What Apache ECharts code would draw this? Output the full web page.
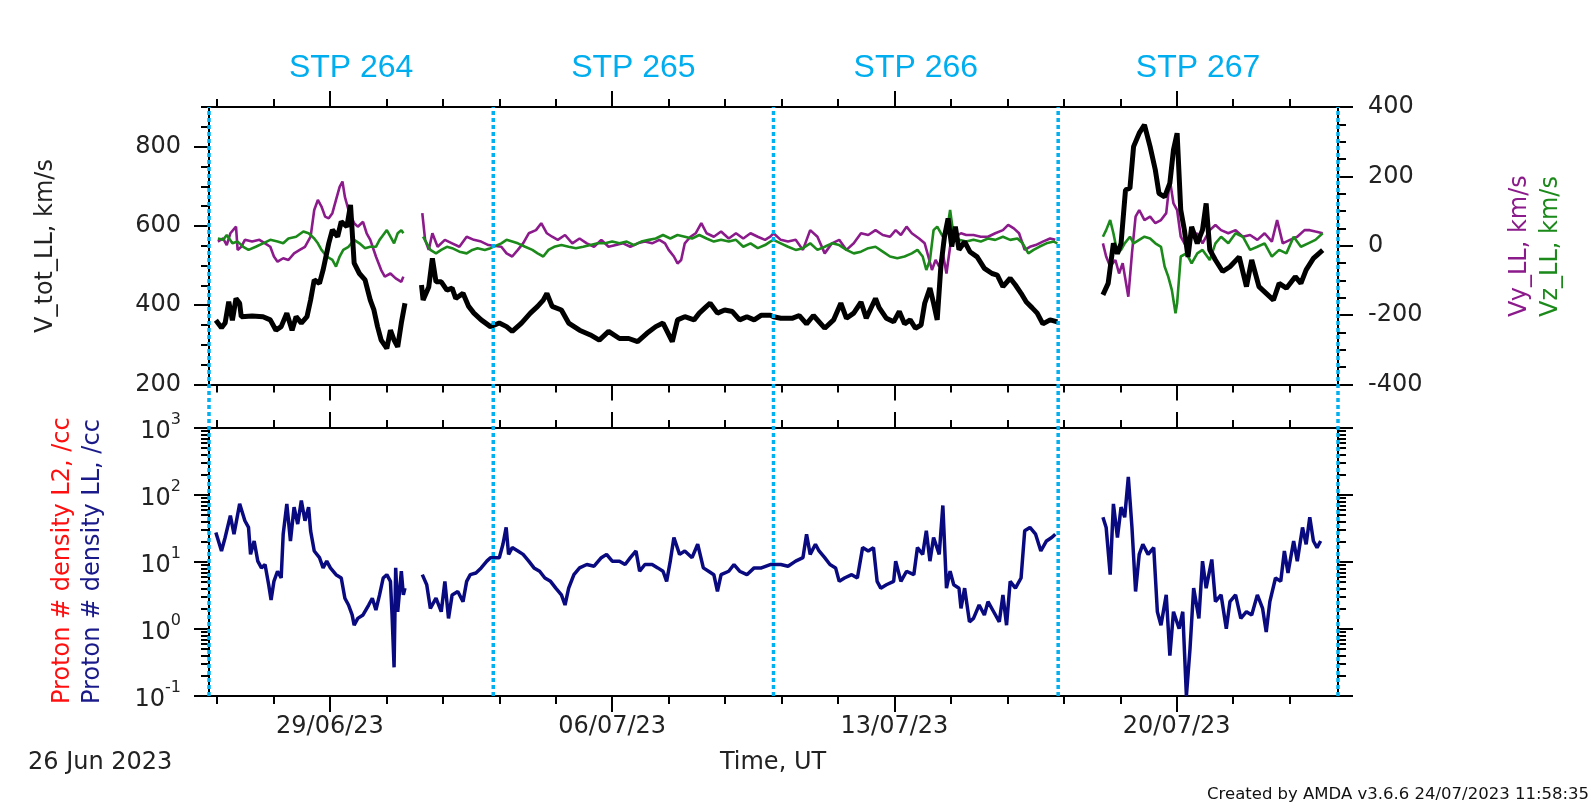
<!DOCTYPE html>
<html><head><meta charset="utf-8">
<script src="https://cdn.jsdelivr.net/npm/echarts@6/dist/echarts.min.js"></script>
<style>html,body{margin:0;padding:0;background:#fff}#c{width:1591px;height:810px}</style>
</head><body><div id="c"></div>
<script>
// x values: days since 26 Jun 2023 00:00 UT
const X_MIN = 0, X_MAX = 28;
const stpBoundaries = [0, 7.05, 14.0, 21.06, 28.0];
const stpNames = ['STP 264', 'STP 265', 'STP 266', 'STP 267'];
const majorTicks = [3, 10, 17, 24];
const majorTickLabels = ['29/06/23', '06/07/23', '13/07/23', '20/07/23'];
const minorTickStart = 0.2, minorTickStep = 1.4;
const vTotTicks = [200, 400, 600, 800];
const vyzTicks = [-400, -200, 0, 200, 400];
const densDecades = [0.1, 1, 10, 100, 1000];

const vTot = [[0.17,362],[0.31,343],[0.40,355],[0.49,409],[0.58,362],[0.67,417],[0.76,405],[0.80,371],[1.07,373],[1.34,371],[1.52,363],[1.66,337],[1.79,346],[1.93,380],[2.06,337],[2.16,371],[2.29,355],[2.43,371],[2.52,413],[2.61,464],[2.74,455],[2.83,489],[2.97,556],[3.06,590],[3.19,573],[3.28,611],[3.42,598],[3.51,653],[3.60,506],[3.73,480],[3.87,464],[4.00,413],[4.09,388],[4.18,346],[4.27,312],[4.41,291],[4.50,337],[4.59,312],[4.68,295],[4.77,355],[4.86,405],null,
[5.27,451],[5.31,413],[5.45,446],[5.54,518],[5.63,459],[5.76,459],[5.90,438],[6.03,443],[6.12,417],[6.30,430],[6.44,397],[6.57,380],[6.75,363],[6.98,346],[7.20,355],[7.38,346],[7.52,334],[7.75,355],[7.97,380],[8.15,397],[8.29,413],[8.38,430],[8.51,397],[8.74,388],[8.92,355],[9.19,337],[9.46,325],[9.68,312],[9.91,334],[10.18,316],[10.41,316],[10.63,308],[10.86,329],[11.08,346],[11.26,355],[11.49,308],[11.62,363],[11.80,371],[12.03,363],[12.16,380],[12.34,397],[12.43,405],[12.61,380],[12.79,388],[12.98,384],[13.16,363],[13.34,371],[13.52,363],[13.70,375],[13.92,375],
[14.00,371],[14.18,367],[14.46,367],[14.64,374],[14.82,353],[14.99,374],[15.27,342],[15.49,363],[15.67,405],[15.81,367],[15.99,380],[16.17,408],[16.30,367],[16.53,417],[16.62,394],[16.80,367],[16.98,358],[17.12,384],[17.25,353],[17.39,363],[17.52,342],[17.66,350],[17.75,405],[17.88,443],[17.97,405],[18.06,363],[18.15,497],[18.24,573],[18.33,619],[18.42,548],[18.51,598],[18.60,540],[18.74,560],[18.87,535],[19.05,522],[19.23,493],[19.42,480],[19.55,476],[19.69,447],[19.87,468],[20.00,451],[20.14,430],[20.27,408],[20.41,394],[20.54,380],[20.68,353],[20.86,363],[21.04,358],null,
[22.17,426],[22.30,455],[22.43,556],[22.53,530],[22.62,556],[22.73,691],[22.84,695],[22.93,800],[23.07,834],[23.20,855],[23.34,800],[23.47,741],[23.56,682],[23.70,673],[23.83,708],[23.92,792],[24.01,834],[24.10,640],[24.19,590],[24.28,522],[24.37,598],[24.51,556],[24.64,590],[24.73,657],[24.82,540],[24.96,514],[25.14,485],[25.32,497],[25.55,522],[25.73,447],[25.86,514],[26.04,447],[26.22,430],[26.40,413],[26.54,455],[26.72,443],[26.94,472],[27.08,455],[27.21,489],[27.39,518],[27.53,531],[27.62,539]];

const vy = [[0.22,12],[0.35,21],[0.44,2],[0.53,36],[0.67,55],[0.71,-12],[0.80,-3],[0.89,17],[1.07,12],[1.25,17],[1.39,7],[1.52,-3],[1.61,-31],[1.70,-46],[1.84,-36],[1.97,-41],[2.11,-22],[2.25,-12],[2.38,-3],[2.52,26],[2.61,103],[2.70,132],[2.79,113],[2.88,84],[2.97,79],[3.06,94],[3.15,132],[3.24,170],[3.31,185],[3.37,141],[3.46,103],[3.60,65],[3.69,55],[3.82,69],[3.91,36],[4.00,17],[4.14,-31],[4.27,-70],[4.36,-89],[4.50,-80],[4.63,-94],[4.77,-104],[4.82,-89],null,
[5.29,94],[5.36,17],[5.45,-12],[5.54,36],[5.67,-3],[5.85,17],[6.03,7],[6.21,-3],[6.39,26],[6.57,17],[6.75,12],[6.93,2],[7.25,-3],[7.38,-22],[7.52,-31],[7.66,-12],[7.79,7],[7.93,36],[8.11,45],[8.24,65],[8.38,36],[8.51,26],[8.65,17],[8.83,31],[9.01,7],[9.19,21],[9.37,7],[9.55,-3],[9.73,17],[9.91,-3],[10.09,2],[10.27,7],[10.45,-3],[10.63,7],[10.81,12],[10.99,7],[11.17,17],[11.31,7],[11.40,-12],[11.53,-31],[11.62,-51],[11.71,-41],[11.80,7],[11.94,26],[12.07,36],[12.21,65],[12.34,36],[12.52,26],[12.70,41],[12.89,21],[13.07,36],[13.25,21],[13.43,36],[13.61,26],[13.79,17],[13.92,26],
[14.00,36],[14.18,17],[14.36,12],[14.55,17],[14.73,-12],[14.91,45],[15.09,26],[15.27,-22],[15.45,7],[15.63,17],[15.81,-12],[15.99,7],[16.17,36],[16.35,31],[16.53,45],[16.71,31],[16.89,26],[17.03,45],[17.16,31],[17.30,55],[17.43,36],[17.61,21],[17.75,7],[17.84,-31],[17.93,-70],[18.02,-41],[18.11,-60],[18.20,-22],[18.29,-80],[18.38,-3],[18.51,26],[18.65,36],[18.78,31],[18.96,31],[19.14,26],[19.32,26],[19.50,36],[19.69,45],[19.82,60],[19.96,50],[20.09,36],[20.23,-12],[20.36,-3],[20.50,2],[20.68,12],[20.86,21],[20.99,17],null,
[22.17,7],[22.25,-31],[22.35,-60],[22.48,-41],[22.57,-80],[22.66,-50],[22.80,-147],[22.89,-22],[22.98,84],[23.07,103],[23.20,74],[23.34,84],[23.47,65],[23.61,74],[23.74,94],[23.83,190],[23.92,122],[24.01,103],[24.10,26],[24.24,-3],[24.37,26],[24.51,36],[24.64,7],[24.82,45],[24.96,60],[25.10,45],[25.28,36],[25.46,45],[25.64,26],[25.82,31],[26.00,17],[26.18,36],[26.36,12],[26.49,74],[26.63,7],[26.81,17],[26.99,26],[27.17,45],[27.30,45],[27.44,41],[27.62,36]];

const vz = [[0.22,21],[0.35,17],[0.44,31],[0.58,7],[0.71,12],[0.85,-3],[0.98,-12],[1.16,-3],[1.34,7],[1.52,17],[1.70,12],[1.84,7],[1.97,21],[2.16,26],[2.34,41],[2.47,36],[2.61,21],[2.70,7],[2.79,-12],[2.92,-31],[3.06,-41],[3.15,-60],[3.24,-31],[3.33,-12],[3.46,-3],[3.60,17],[3.73,7],[3.87,-7],[4.00,-3],[4.14,-3],[4.23,17],[4.32,31],[4.41,45],[4.50,26],[4.59,7],[4.68,36],[4.77,45],[4.82,36],null,
[5.31,26],[5.40,7],[5.49,-12],[5.63,-22],[5.76,-12],[5.90,-3],[6.03,-7],[6.21,-17],[6.39,-22],[6.53,-12],[6.66,-7],[6.84,-12],[6.98,-7],[7.25,7],[7.38,17],[7.52,12],[7.66,7],[7.84,-3],[8.02,-12],[8.15,-22],[8.29,-31],[8.42,-12],[8.56,-3],[8.74,2],[8.92,-3],[9.10,-7],[9.28,-3],[9.46,2],[9.64,7],[9.82,7],[10.00,12],[10.18,7],[10.36,12],[10.54,2],[10.72,12],[10.91,17],[11.08,21],[11.26,31],[11.44,21],[11.62,31],[11.80,26],[11.98,21],[12.16,31],[12.34,21],[12.52,12],[12.70,17],[12.89,12],[13.07,17],[13.25,-3],[13.43,7],[13.61,-7],[13.79,2],[13.92,12],
[14.00,17],[14.18,7],[14.36,-3],[14.55,-12],[14.73,-7],[14.91,7],[15.09,-12],[15.27,-3],[15.45,7],[15.63,2],[15.81,-12],[15.99,-22],[16.17,-17],[16.35,-7],[16.53,-3],[16.71,-17],[16.89,-31],[17.07,-36],[17.25,-31],[17.43,-22],[17.57,-12],[17.70,-31],[17.79,-70],[17.88,-41],[17.97,45],[18.06,55],[18.20,26],[18.33,65],[18.38,103],[18.47,26],[18.60,17],[18.78,12],[18.96,17],[19.14,12],[19.32,21],[19.50,17],[19.69,26],[19.87,17],[20.05,21],[20.18,7],[20.32,-22],[20.45,-12],[20.59,-3],[20.77,7],[20.95,12],[21.04,7],null,
[22.17,26],[22.25,45],[22.35,74],[22.43,36],[22.53,-22],[22.62,-12],[22.71,7],[22.84,26],[22.93,7],[23.07,17],[23.20,26],[23.34,21],[23.47,7],[23.61,-3],[23.70,-60],[23.79,-89],[23.88,-128],[23.97,-195],[24.01,-166],[24.10,-31],[24.24,-22],[24.37,-51],[24.51,-22],[24.64,-12],[24.82,-41],[24.96,7],[25.10,26],[25.28,7],[25.46,36],[25.64,26],[25.82,-12],[26.00,-3],[26.18,7],[26.36,-31],[26.54,-12],[26.72,-22],[26.90,26],[27.08,-3],[27.26,7],[27.44,17],[27.62,36]];

const densLL = [[0.17,27.5],[0.31,14.6],[0.40,23.2],[0.53,49.2],[0.62,26.0],[0.76,73.8],[0.89,41.3],[0.98,32.8],[1.03,13.0],[1.12,20.6],[1.21,10.3],[1.30,8.17],[1.39,9.17],[1.48,4.57],[1.54,2.72],[1.61,5.14],[1.70,7.28],[1.79,5.77],[1.84,26.0],[1.93,73.8],[2.02,20.6],[2.11,65.8],[2.20,36.8],[2.29,82.8],[2.38,41.3],[2.47,65.8],[2.52,29.2],[2.61,14.6],[2.74,11.6],[2.83,8.17],[2.92,10.3],[3.01,8.17],[3.15,6.47],[3.28,5.77],[3.37,2.88],[3.46,2.28],[3.55,1.62],[3.60,1.14],[3.69,1.44],[3.82,1.62],[3.96,2.28],[4.05,2.88],[4.14,1.92],[4.23,3.23],[4.32,5.77],[4.41,6.47],[4.50,5.14],[4.54,1.62],[4.59,0.268],[4.63,8.17],[4.68,1.81],[4.77,7.28],[4.82,3.23],[4.86,4.07],null,
[5.29,6.47],[5.40,4.57],[5.49,2.03],[5.63,2.88],[5.76,1.81],[5.85,5.14],[5.94,1.44],[6.03,3.23],[6.17,3.63],[6.30,2.56],[6.39,5.14],[6.48,6.47],[6.62,6.86],[6.75,8.17],[6.89,10.3],[6.98,11.6],[7.20,11.6],[7.29,18.4],[7.37,32.8],[7.43,13.0],[7.52,16.4],[7.66,14.6],[7.79,13.0],[7.93,10.3],[8.06,8.17],[8.20,7.28],[8.33,5.77],[8.47,5.14],[8.60,4.07],[8.74,3.23],[8.83,2.28],[8.92,4.07],[9.05,6.47],[9.19,8.17],[9.37,9.17],[9.55,8.65],[9.73,11.6],[9.86,13.0],[10.00,10.3],[10.18,10.3],[10.32,9.17],[10.45,11.6],[10.59,14.6],[10.68,7.28],[10.81,9.17],[10.99,9.17],[11.13,8.17],[11.26,7.28],[11.35,5.14],[11.44,10.3],[11.53,23.2],[11.67,13.0],[11.80,14.6],[11.98,11.6],[12.12,18.4],[12.26,8.17],[12.39,7.28],[12.52,6.47],[12.61,3.63],[12.70,6.47],[12.89,7.28],[13.02,9.17],[13.16,7.28],[13.34,6.47],[13.52,8.17],[13.70,8.17],[13.92,9.17],
[14.18,9.17],[14.36,8.65],[14.55,10.3],[14.73,11.6],[14.82,26.0],[14.91,13.0],[15.04,18.4],[15.13,14.6],[15.27,11.6],[15.40,9.17],[15.54,8.17],[15.63,5.14],[15.76,5.77],[15.94,6.47],[16.08,5.77],[16.21,16.4],[16.35,14.6],[16.48,16.4],[16.57,5.14],[16.66,4.07],[16.80,4.57],[16.98,5.14],[17.03,10.3],[17.16,5.14],[17.30,7.28],[17.48,6.47],[17.57,16.4],[17.70,13.0],[17.79,29.2],[17.88,10.3],[17.97,23.2],[18.11,13.0],[18.20,69.7],[18.29,4.07],[18.38,7.28],[18.47,4.57],[18.60,4.07],[18.65,2.03],[18.74,4.07],[18.86,1.28],[18.96,1.44],[19.10,2.28],[19.23,1.62],[19.32,2.56],[19.46,1.81],[19.60,1.28],[19.69,3.23],[19.78,1.14],[19.87,5.14],[20.00,4.07],[20.14,5.77],[20.23,29.2],[20.36,32.8],[20.50,26.0],[20.63,14.6],[20.77,20.6],[20.90,23.2],[20.99,26.0],null,
[22.17,46.5],[22.25,32.8],[22.35,6.47],[22.43,73.8],[22.53,23.2],[22.62,65.8],[22.71,46.5],[22.80,186],[22.89,32.8],[22.98,3.63],[23.07,13.0],[23.16,18.4],[23.29,13.0],[23.43,16.4],[23.52,1.81],[23.61,1.14],[23.74,3.23],[23.83,0.40],[23.92,1.81],[24.06,1.01],[24.15,1.81],[24.24,0.1],[24.33,0.51],[24.42,4.07],[24.55,1.44],[24.64,10.3],[24.73,4.07],[24.87,10.9],[24.96,2.56],[25.10,3.23],[25.23,1.01],[25.32,2.56],[25.46,3.23],[25.59,1.44],[25.73,1.81],[25.86,1.62],[26.00,3.23],[26.13,2.03],[26.22,0.90],[26.31,2.56],[26.45,5.77],[26.58,5.14],[26.67,14.6],[26.76,6.86],[26.90,20.6],[26.99,10.3],[27.12,32.8],[27.21,18.4],[27.30,46.5],[27.39,20.6],[27.48,16.4],[27.57,20.6]];

// ---- derived tick lists ----
const minorTicksX = [];
for (let v = minorTickStart; v <= X_MAX + 1e-9; v += minorTickStep) minorTicksX.push(+v.toFixed(4));
const range = (a, b, s) => { const r = []; for (let v = a; v <= b + 1e-9; v += s) r.push(v); return r; };
const vTotMinor = range(200, 900, 50);
const vyzMinor = range(-400, 400, 50);
const densMinor = [];
densDecades.slice(0, -1).forEach(d => { for (let m = 2; m <= 9; m++) densMinor.push(+(d * m).toPrecision(3)); });

const FONT = 'DejaVu Sans';
const TXT = '#222';
const lineBlack = { color: '#000', width: 2 };

function xAx(grid, pos, major, labels) {
  return {
    type: 'value', gridIndex: grid, position: pos, min: X_MIN, max: X_MAX,
    axisLine: { show: !major, onZero: false, lineStyle: lineBlack },
    axisTick: { show: true, inside: false, length: major ? 16 : 8, customValues: major ? majorTicks : minorTicksX, lineStyle: lineBlack },
    axisLabel: labels ? {
      show: true, customValues: majorTicks, margin: 19, color: TXT, fontFamily: FONT, fontSize: 24,
      formatter: v => majorTickLabels[majorTicks.indexOf(Math.round(v))]
    } : { show: false },
    splitLine: { show: false }
  };
}
function yAx(grid, pos, type, min, max, ticks, major, labelOpt) {
  const o = {
    type, gridIndex: grid, position: pos, min, max,
    axisLine: { show: !major, onZero: false, lineStyle: lineBlack },
    axisTick: { show: true, inside: false, length: major ? 15 : 8, customValues: ticks, lineStyle: lineBlack },
    axisLabel: labelOpt || { show: false },
    splitLine: { show: false }
  };
  if (type === 'log') o.logBase = 10;
  return o;
}
const grid0 = { left: 209, top: 107, width: 1129, height: 277.5 };
const grid1 = { left: 209, top: 428, width: 1129, height: 268 };
const grid2 = { left: 209, top: 107, width: 1129, height: 589 };

const chart = echarts.init(document.getElementById('c'), null, { renderer: 'canvas' });
const conv = arr => arr.map(p => p === null ? null : [p[0], p[1]]);

const boundarySeries = stpBoundaries.map(t => ({
  type: 'line', xAxisIndex: 8, yAxisIndex: 8, data: [[t, 0], [t, 1]], symbol: 'none', silent: true, z: 10, clip: false,
  lineStyle: { color: '#00b0f0', width: 3.5, type: [4, 3] }
}));

chart.setOption({
  animation: false,
  backgroundColor: '#fff',
  grid: [grid0, grid1, grid2],
  xAxis: [
    xAx(0, 'bottom', false, false), xAx(0, 'bottom', true, false),
    xAx(0, 'top', false, false), xAx(0, 'top', true, false),
    xAx(1, 'top', false, false), xAx(1, 'top', true, false),
    xAx(1, 'bottom', false, false), xAx(1, 'bottom', true, true),
    { type: 'value', gridIndex: 2, min: X_MIN, max: X_MAX, show: false }
  ],
  yAxis: [
    yAx(0, 'left', 'value', 200, 900, vTotMinor, false),
    yAx(0, 'left', 'value', 200, 900, vTotTicks, true, { show: true, customValues: vTotTicks, margin: 28, color: TXT, fontFamily: FONT, fontSize: 24 }),
    yAx(0, 'right', 'value', -400, 400, vyzMinor, false),
    yAx(0, 'right', 'value', -400, 400, vyzTicks, true, { show: true, customValues: vyzTicks, margin: 30, color: TXT, fontFamily: FONT, fontSize: 24 }),
    yAx(1, 'left', 'log', 0.1, 1000, densMinor, false),
    yAx(1, 'left', 'log', 0.1, 1000, densDecades, true, {
      show: true, customValues: densDecades, margin: 28, color: TXT,
      formatter: v => '{b|10}{s|' + Math.round(Math.log10(v)) + '}',
      rich: {
        b: { fontFamily: FONT, fontSize: 24, color: TXT, padding: [8, 0, 0, 0] },
        s: { fontFamily: FONT, fontSize: 16, color: TXT, verticalAlign: 'top', padding: [0, 0, 12, 0] }
      }
    }),
    yAx(1, 'right', 'log', 0.1, 1000, densMinor, false),
    yAx(1, 'right', 'log', 0.1, 1000, densDecades, true),
    { type: 'value', gridIndex: 2, min: 0, max: 1, show: false }
  ],
  series: [
    { name: 'Vy_LL', type: 'line', xAxisIndex: 0, yAxisIndex: 2, data: conv(vy), symbol: 'none', connectNulls: false, z: 2,
      lineStyle: { color: '#8B1A8B', width: 2.6 } },
    { name: 'Vz_LL', type: 'line', xAxisIndex: 0, yAxisIndex: 2, data: conv(vz), symbol: 'none', connectNulls: false, z: 3,
      lineStyle: { color: '#1B8A1B', width: 2.6 } },
    { name: 'V_tot_LL', type: 'line', xAxisIndex: 0, yAxisIndex: 0, data: conv(vTot), symbol: 'none', connectNulls: false, z: 4,
      lineStyle: { color: '#000', width: 5 } },
    { name: 'Proton # density LL', type: 'line', xAxisIndex: 6, yAxisIndex: 4, data: conv(densLL), symbol: 'none', connectNulls: false, z: 4,
      lineStyle: { color: '#0A0A80', width: 3.5 } },
    ...boundarySeries
  ]
});

// text elements
const txt = (x, y, text, opt) => ({
  type: 'text', x, y, rotation: opt.rot || 0, silent: true, z: 20,
  style: Object.assign({ text, fontFamily: FONT, fontSize: opt.size || 24, fill: opt.color || TXT,
    align: opt.align || 'center', textAlign: opt.align || 'center', verticalAlign: 'middle', textVerticalAlign: 'middle' }, opt.style || {})
});
const R = Math.PI / 2;
const graphics = [
  txt(46, 246, 'V_tot_LL, km/s', { rot: R }),
  txt(1520, 317, 'Vy_LL, km/s', { rot: R, color: '#8B1A8B', align: 'left' }),
  txt(1551, 317, 'Vz_LL, km/s', { rot: R, color: '#1B8A1B', align: 'left' }),
  txt(63, 704, 'Proton # density L2, /cc', { rot: R, color: '#FF1010', align: 'left' }),
  txt(93, 704, 'Proton # density LL, /cc', { rot: R, color: '#1A1A8A', align: 'left' }),
  txt(773, 763, 'Time, UT', {}),
  txt(28, 763, '26 Jun 2023', { align: 'left' }),
  txt(1589, 795, 'Created by AMDA v3.6.6 24/07/2023 11:58:35', { align: 'right', size: 16.5, color: '#111' })
];
stpNames.forEach((name, i) => {
  const mid = (stpBoundaries[i] + stpBoundaries[i + 1]) / 2;
  const px = chart.convertToPixel({ xAxisIndex: 8 }, mid);
  graphics.push(txt(px, 68, name, { color: '#00AEEF', size: 32, style: { fontFamily: 'Liberation Sans' } }));
});
chart.setOption({ graphic: graphics });
</script></body></html>
